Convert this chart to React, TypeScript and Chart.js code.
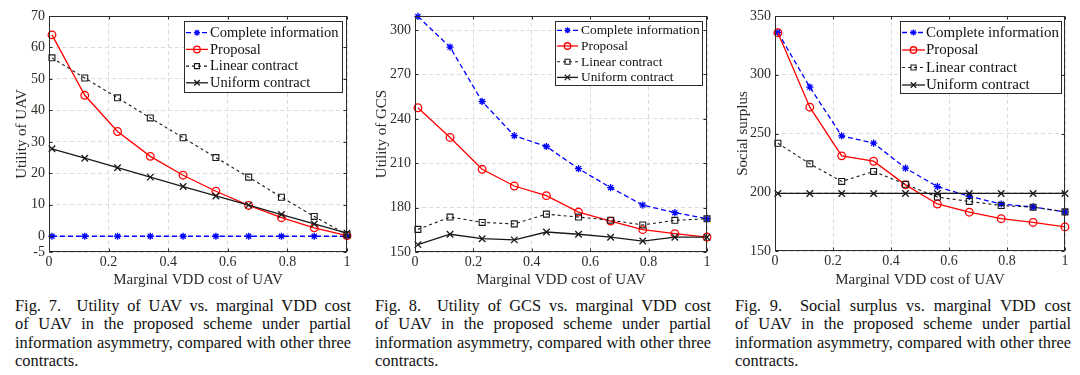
import React, { useEffect, useRef } from 'react';
import { Chart, registerables } from 'chart.js';

Chart.register(...registerables);

// ---------------- data ----------------
const xCost = [0.01, 0.12, 0.23, 0.34, 0.45, 0.56, 0.67, 0.78, 0.89, 1.0];
const seriesNames = ['Complete information', 'Proposal', 'Linear contract', 'Uniform contract'];

const xTicks = [0, 0.2, 0.4, 0.6, 0.8, 1];
const xTickLabels = ['0', '0.2', '0.4', '0.6', '0.8', '1'];
const xTitle = 'Marginal VDD cost of UAV';

// Fig. 7 – Utility of UAV
const complete1 = [0, 0, 0, 0, 0, 0, 0, 0, 0, 0];
const proposal1 = [64, 44.8, 33.3, 25.4, 19.4, 14.3, 9.8, 5.9, 2.7, 0.2];
const linear1 = [56.7, 50.3, 44, 37.6, 31.3, 25, 18.8, 12.4, 6.3, 0.5];
const uniform1 = [27.8, 24.8, 21.8, 18.8, 15.8, 12.8, 9.9, 6.9, 3.9, 1.0];
const yTicks1 = [-5, 0, 10, 20, 30, 40, 50, 60, 70];

// Fig. 8 – Utility of GCS
const complete2 = [309.2, 288.5, 251.7, 228.6, 221.3, 206.3, 193.5, 181.7, 176.6, 172.5];
const proposal2 = [247.5, 227.4, 205.9, 194.6, 188.1, 177, 170.9, 165.1, 162.4, 160.1];
const linear2 = [165.3, 173.6, 170, 169, 175.6, 173.6, 171.5, 168.3, 171.4, 172.5];
const uniform2 = [155, 162, 159, 158.2, 163.5, 162, 160, 157.4, 160, 160];
const yTicks2 = [150, 180, 210, 240, 270, 300];

// Fig. 9 – Social surplus
const complete3 = [336, 289.5, 248, 241.8, 220.5, 204.8, 196.5, 190, 187.5, 183.3];
const proposal3 = [335.8, 272.4, 231, 226.4, 206.3, 190, 183, 177.5, 174.3, 170.5];
const linear3 = [241.7, 224.2, 209.2, 217.7, 206.8, 195.9, 192.2, 188.7, 187.3, 183.3];
const uniform3 = [199, 199, 199, 199, 199, 199, 199, 199, 199, 199];
const yTicks3 = [150, 200, 250, 300, 350];

const caption7 = [
  'Fig. 7.\u00a0 Utility of UAV vs. marginal VDD cost',
  'of UAV in the proposed scheme under partial',
  'information asymmetry, compared with other three',
  'contracts.',
];
const caption8 = [
  'Fig. 8.\u00a0 Utility of GCS vs. marginal VDD cost',
  'of UAV in the proposed scheme under partial',
  'information asymmetry, compared with other three',
  'contracts.',
];
const caption9 = [
  'Fig. 9.\u00a0 Social surplus vs. marginal VDD cost',
  'of UAV in the proposed scheme under partial',
  'information asymmetry, compared with other three',
  'contracts.',
];

// ---------------- styles ----------------
const FONT = "'Liberation Serif', 'Times New Roman', serif";
const TEXT = '#2e2a26';

const seriesStyles = [
  { color: '#0000ff', dash: [5, 3], point: 'star', radius: 3.6, width: 1.3 },
  { color: '#ff0000', dash: [], point: 'circle', radius: 3.8, width: 1.3 },
  { color: '#1a1a1a', dash: [3, 3], point: 'rect', radius: 4.2, width: 1.1 },
  { color: '#1a1a1a', dash: [], point: 'crossRot', radius: 4.6, width: 1.3 },
];

function drawMarker(ctx: CanvasRenderingContext2D, style: string, x: number, y: number, r: number) {
  ctx.beginPath();
  if (style === 'circle') {
    ctx.arc(x, y, r, 0, Math.PI * 2);
  } else if (style === 'rect') {
    const s = Math.SQRT1_2 * r;
    ctx.rect(x - s, y - s, 2 * s, 2 * s);
  } else if (style === 'crossRot') {
    const o = Math.SQRT1_2 * r;
    ctx.moveTo(x - o, y - o); ctx.lineTo(x + o, y + o);
    ctx.moveTo(x - o, y + o); ctx.lineTo(x + o, y - o);
  } else if (style === 'star') {
    for (let k = 0; k < 4; k++) {
      const a = (k * Math.PI) / 4;
      const dx = Math.cos(a) * r, dy = Math.sin(a) * r;
      ctx.moveTo(x - dx, y - dy); ctx.lineTo(x + dx, y + dy);
    }
  }
  ctx.stroke();
}

const framePlugin = {
  id: 'frame',
  afterDatasetsDraw(chart: any) {
    const { ctx, chartArea: a } = chart;
    ctx.save();
    ctx.strokeStyle = TEXT;
    ctx.lineWidth = 1;
    ctx.setLineDash([]);
    const l = Math.round(a.left) + 0.5, r = Math.round(a.right) - 0.5;
    const t = Math.round(a.top) + 0.5, b = Math.round(a.bottom) - 0.5;
    ctx.strokeRect(l, t, r - l, b - t);
    const xs = chart.scales.x, ys = chart.scales.y;
    ctx.beginPath();
    xs.ticks.forEach((tk: any) => {
      const px = Math.round(xs.getPixelForValue(tk.value)) + 0.5;
      ctx.moveTo(px, b); ctx.lineTo(px, b - 3);
      ctx.moveTo(px, t); ctx.lineTo(px, t + 3);
    });
    ys.ticks.forEach((tk: any) => {
      const py = Math.round(ys.getPixelForValue(tk.value)) + 0.5;
      ctx.moveTo(l, py); ctx.lineTo(l + 3, py);
      ctx.moveTo(r, py); ctx.lineTo(r - 3, py);
    });
    ctx.stroke();
    ctx.restore();
  },
};

const boxLegendPlugin = {
  id: 'boxLegend',
  afterDraw(chart: any, _args: any, opts: any) {
    const { ctx } = chart;
    const L = opts.box;
    if (!L) return;
    ctx.save();
    ctx.fillStyle = '#ffffff';
    ctx.fillRect(L.x1, L.y1, L.x2 - L.x1, L.y2 - L.y1);
    ctx.strokeStyle = TEXT;
    ctx.lineWidth = 1;
    ctx.setLineDash([]);
    ctx.strokeRect(Math.round(L.x1) + 0.5, Math.round(L.y1) + 0.5, Math.round(L.x2 - L.x1), Math.round(L.y2 - L.y1));
    chart.data.datasets.forEach((ds: any, i: number) => {
      const y = L.y1 + L.first + i * L.step;
      const st = seriesStyles[i];
      ctx.strokeStyle = st.color;
      ctx.lineWidth = st.width;
      ctx.setLineDash(st.dash);
      ctx.beginPath();
      ctx.moveTo(L.lx1, y); ctx.lineTo(L.lx2, y);
      ctx.stroke();
      ctx.setLineDash([]);
      drawMarker(ctx, st.point, (L.lx1 + L.lx2) / 2, y, st.radius * 0.85);
      ctx.fillStyle = '#111111';
      ctx.font = `${L.fontSize}px ${FONT}`;
      ctx.textBaseline = 'middle';
      ctx.textAlign = 'left';
      ctx.fillText(ds.label, L.tx, y + 0.5);
    });
    ctx.restore();
  },
};

type Panel = {
  left: number;
  yTitle: string;
  yMin: number;
  yMax: number;
  yTicks: number[];
  series: number[][];
  area: { l: number; r: number; t: number; b: number };
  titleX: number;
  legend: any;
};

const W = 360, H = 290;

const panels: Panel[] = [
  {
    left: 0, yTitle: 'Utility of UAV', yMin: -5, yMax: 70, yTicks: yTicks1,
    series: [complete1, proposal1, linear1, uniform1],
    area: { l: 49, r: 347, t: 16, b: 252 }, titleX: 22,
    legend: { x1: 184, y1: 21, x2: 342, y2: 92, first: 11.7, step: 16.7, lx1: 186, lx2: 208, tx: 210, fontSize: 14.5 },
  },
  {
    left: 360, yTitle: 'Utility of GCS', yMin: 150, yMax: 309.5, yTicks: yTicks2,
    series: [complete2, proposal2, linear2, uniform2],
    area: { l: 55, r: 347, t: 16, b: 252 }, titleX: 22.5,
    legend: { x1: 195, y1: 21, x2: 342, y2: 85, first: 9.3, step: 15.7, lx1: 197, lx2: 218, tx: 221, fontSize: 13.4 },
  },
  {
    left: 720, yTitle: 'Social surplus', yMin: 150, yMax: 350, yTicks: yTicks3,
    series: [complete3, proposal3, linear3, uniform3],
    area: { l: 55, r: 345, t: 16, b: 251 }, titleX: 22.8,
    legend: { x1: 180, y1: 21, x2: 341, y2: 93, first: 11.5, step: 17.5, lx1: 182, lx2: 205, tx: 206, fontSize: 15 },
  },
];

function PanelChart({ p }: { p: Panel }) {
  const ref = useRef<HTMLCanvasElement | null>(null);
  useEffect(() => {
    if (!ref.current) return;
    const padL = p.titleX - 9;
    const padBottom = 1;
    const xAxisH = H - padBottom - p.area.b;
    const yAxisW = p.area.l - padL;
    const chart = new Chart(ref.current, {
      type: 'line',
      data: {
        datasets: p.series.map((vals, i) => {
          const st = seriesStyles[i];
          return {
            label: seriesNames[i],
            data: xCost.map((x, k) => ({ x, y: vals[k] })),
            borderColor: st.color,
            borderWidth: st.width,
            borderDash: st.dash,
            pointStyle: st.point as any,
            pointRadius: st.radius,
            pointBorderColor: st.color,
            pointBackgroundColor: 'rgba(0,0,0,0)',
            pointBorderWidth: st.width,
            tension: 0,
            fill: false,
            clip: false as any,
            order: 3 - i,
          };
        }),
      },
      options: {
        responsive: false,
        animation: false,
        devicePixelRatio: 1,
        layout: { padding: { left: padL, top: p.area.t, right: W - p.area.r, bottom: padBottom } },
        plugins: {
          legend: { display: false },
          tooltip: { enabled: false },
          boxLegend: { box: p.legend },
        } as any,
        scales: {
          x: {
            type: 'linear',
            min: 0,
            max: 1,
            afterBuildTicks: (s: any) => { s.ticks = xTicks.map((v) => ({ value: v })); },
            afterFit: (s: any) => { s.height = xAxisH; },
            ticks: {
              callback: (v: any) => {
                const idx = xTicks.findIndex((t) => Math.abs(t - Number(v)) < 1e-9);
                return idx >= 0 ? xTickLabels[idx] : '';
              },
              font: { family: FONT, size: 14 },
              color: TEXT,
              padding: 2,
              maxRotation: 0,
              autoSkip: false,
            },
            grid: { color: '#dcdcdc', lineWidth: 1, drawTicks: false },
            border: { display: false, dash: [4, 3] },
            title: {
              display: true,
              text: xTitle,
              font: { family: FONT, size: 15 },
              color: TEXT,
              padding: { top: 0, bottom: 0 },
            },
          },
          y: {
            type: 'linear',
            min: p.yMin,
            max: p.yMax,
            afterBuildTicks: (s: any) => { s.ticks = p.yTicks.map((v) => ({ value: v })); },
            afterFit: (s: any) => { s.width = yAxisW; },
            ticks: {
              callback: (v: any) => String(v),
              font: { family: FONT, size: 14 },
              color: TEXT,
              padding: 4,
              autoSkip: false,
            },
            grid: { color: '#dcdcdc', lineWidth: 1, drawTicks: false },
            border: { display: false, dash: [4, 3] },
            title: {
              display: true,
              text: p.yTitle,
              font: { family: FONT, size: 15 },
              color: TEXT,
              padding: { top: 0, bottom: 0 },
            },
          },
        },
      } as any,
      plugins: [framePlugin, boxLegendPlugin],
    });
    return () => chart.destroy();
  }, [p]);
  return (
    <div style={{ position: 'absolute', left: p.left, top: 0, width: W, height: H }}>
      <canvas ref={ref} width={W} height={H} style={{ display: 'block' }} />
    </div>
  );
}

function Caption({ lines, left }: { lines: string[]; left: number }) {
  return (
    <div
      style={{
        position: 'absolute',
        left,
        top: 297,
        width: 336,
        fontFamily: FONT,
        fontSize: '16.4px',
        lineHeight: '18.4px',
        color: '#111',
      }}
    >
      {lines.map((ln, i) => (
        <div
          key={i}
          style={{
            textAlign: i < lines.length - 1 ? 'justify' : 'left',
            textAlignLast: i < lines.length - 1 ? 'justify' : 'left',
            whiteSpace: 'nowrap',
          } as any}
        >
          {ln}
        </div>
      ))}
    </div>
  );
}

export default function App() {
  useEffect(() => {
    document.body.style.margin = '0';
    document.body.style.background = '#ffffff';
  }, []);
  return (
    <div style={{ position: 'relative', width: 1080, height: 375, background: '#fff', overflow: 'hidden' }}>
      {panels.map((p, i) => (
        <PanelChart key={i} p={p} />
      ))}
      <Caption lines={caption7} left={15} />
      <Caption lines={caption8} left={375} />
      <Caption lines={caption9} left={735} />
    </div>
  );
}
